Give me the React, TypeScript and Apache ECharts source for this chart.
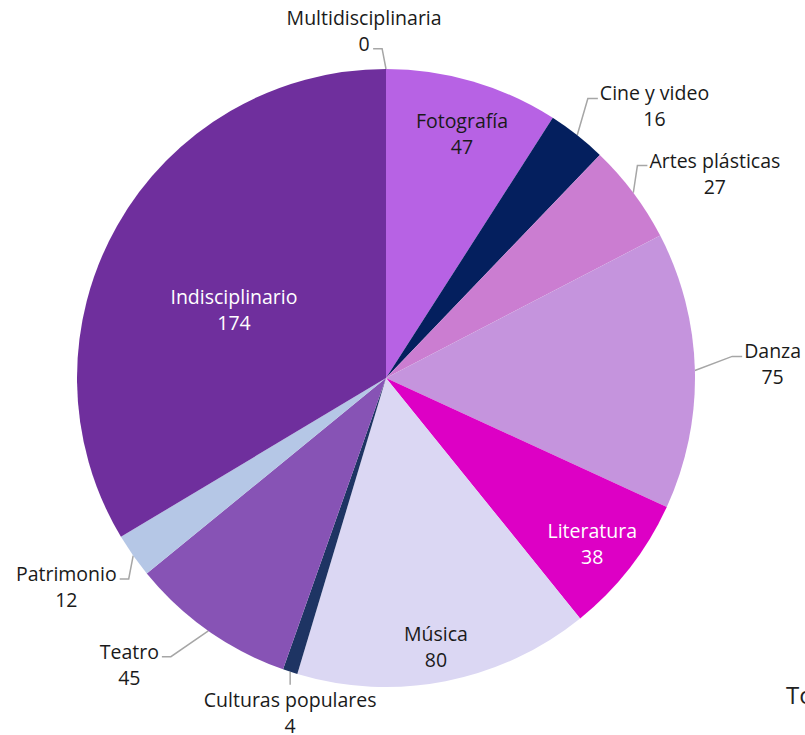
import React, { useEffect, useRef } from 'react';
import * as echarts from 'echarts';

// ---- data ----
const categories = [
  'Multidisciplinaria',
  'Fotografía',
  'Cine y video',
  'Artes plásticas',
  'Danza',
  'Literatura',
  'Música',
  'Culturas populares',
  'Teatro',
  'Patrimonio',
  'Indisciplinario',
];
const values = [0, 47, 16, 27, 75, 38, 80, 4, 45, 12, 174];

// ---- styles ----
const sliceColors = [
  '#9E9E9E',
  '#B762E4',
  '#041F5E',
  '#CB7DD1',
  '#C594DD',
  '#DD00C5',
  '#DBD7F3',
  '#1E3463',
  '#8753B5',
  '#B5C7E6',
  '#6F2F9D',
];
const labelTextColors = [
  '#1a1a1a', '#1a1a1a', '#1a1a1a', '#1a1a1a', '#1a1a1a', '#ffffff',
  '#1a1a1a', '#1a1a1a', '#1a1a1a', '#1a1a1a', '#ffffff',
];
// label placement: k = distance from centre (fraction of radius), da = angle offset (deg)
// attach: which edge of the label the leader line meets, row: which text row
const labelPlacement: any[] = [
  { k: 1.128, da: -3.6, attach: 'right', row: 1, hw: 6 },
  { k: 0.83, da: 0.9, inside: true },
  { k: 1.237, da: 6.4, attach: 'left', row: 0 },
  { k: 1.254, da: 4.9, attach: 'left', row: 0 },
  { k: 1.252, da: -0.7, attach: 'left', row: 0 },
  { k: 0.855, da: 0.8, inside: true },
  { k: 0.885, da: 0.6, inside: true },
  { k: 1.127, da: -2.1, attach: 'top' },
  { k: 1.244, da: 6.8, attach: 'right', row: 0 },
  { k: 1.235, da: 2.0, attach: 'right', row: 0 },
  { k: 0.54, da: -5.2, inside: true },
];

const CX = 386;
const CY = 378;
const R = 309;
const FONT = 'Open Sans';
const FONT_SIZE = 19.5;
const LINE_H = 26;

export default function App() {
  const ref = useRef<HTMLDivElement>(null);

  useEffect(() => {
    document.body.style.margin = '0';
    if (!ref.current) return;
    const chart = echarts.init(ref.current, undefined, { renderer: 'svg' });

    const total = values.reduce((a, b) => a + b, 0);
    const midAngles: number[] = [];
    let acc = 0;
    values.forEach((v) => {
      midAngles.push(((acc + v / 2) / total) * 360);
      acc += v;
    });

    const data = categories.map((name, i) => {
      const p = labelPlacement[i];
      return {
        name,
        value: values[i],
        itemStyle: { color: sliceColors[i] },
        label: {
          position: p.inside ? 'inside' : 'outside',
          color: labelTextColors[i],
        },
        labelLine: { show: !p.inside },
      };
    });

    chart.setOption({
      animation: false,
      backgroundColor: '#ffffff',
      textStyle: { fontFamily: FONT },
      graphic: [
        {
          type: 'text',
          left: 786,
          top: 682,
          style: {
            text: `Total: ${total}`,
            fontFamily: FONT,
            fontSize: 24,
            fill: '#222222',
          },
        },
      ],
      series: [
        {
          type: 'pie',
          center: [CX, CY],
          radius: R,
          startAngle: 90,
          clockwise: true,
          avoidLabelOverlap: false,
          minShowLabelAngle: 0,
          label: {
            show: true,
            formatter: '{b}\n{c}',
            fontFamily: FONT,
            fontSize: FONT_SIZE,
            lineHeight: LINE_H,
            align: 'center',
          },
          labelLine: {
            show: true,
            lineStyle: { color: '#A6A6A6', width: 1.5 },
          },
          emphasis: { disabled: true },
          labelLayout: (params: any) => {
            const i = params.dataIndex;
            const p = labelPlacement[i];
            const mid = midAngles[i];
            const a = ((mid + p.da) * Math.PI) / 180;
            const lx = CX + R * p.k * Math.sin(a);
            const ly = CY - R * p.k * Math.cos(a);
            const res: any = { x: lx, y: ly, align: 'center', verticalAlign: 'middle' };
            if (!p.inside) {
              const m = (mid * Math.PI) / 180;
              const sx = CX + R * Math.sin(m);
              const sy = CY - R * Math.cos(m);
              const w = params.labelRect.width;
              const h = params.labelRect.height;
              const hw = p.hw != null ? p.hw : w / 2;
              if (p.attach === 'top') {
                const ey = ly - h / 2 - 2;
                res.labelLinePoints = [
                  [sx, sy],
                  [sx, (sy + ey) / 2],
                  [sx, ey],
                ];
              } else {
                const ey = ly + (p.row === 1 ? LINE_H / 2 : -LINE_H / 2) + 5.5;
                const ex = p.attach === 'left' ? lx - hw - 2 : lx + hw + 3;
                const bx = p.attach === 'left' ? ex - 10 : ex + 9;
                res.labelLinePoints = [
                  [sx, sy],
                  [bx, ey],
                  [ex, ey],
                ];
              }
            }
            return res;
          },
          data,
        },
      ],
    });

    return () => chart.dispose();
  }, []);

  return <div ref={ref} style={{ width: 805, height: 735 }} />;
}
